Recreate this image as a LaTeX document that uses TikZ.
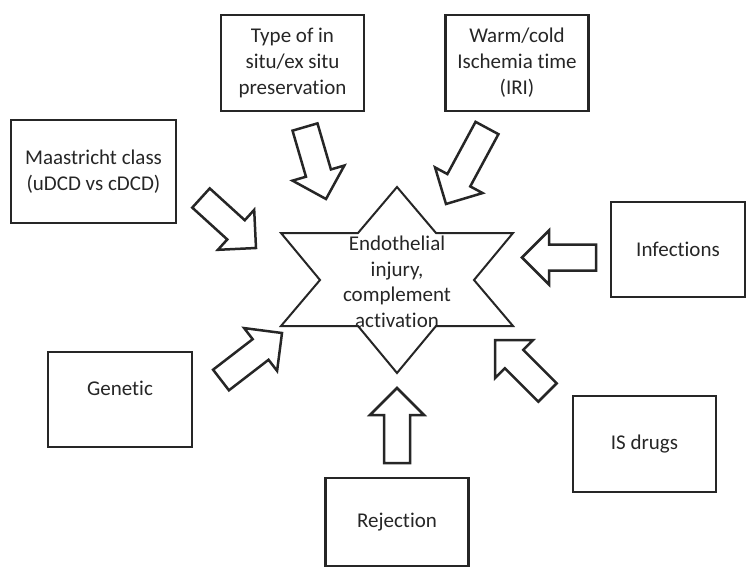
\documentclass[tikz,border=0pt]{standalone}
\usepackage{fontspec}
\setmainfont{Carlito}[Ligatures=NoCommon]
\usetikzlibrary{calc}

% hollow block arrow from tail coordinate #1 to tip coordinate #2
\newcommand{\factorarrow}[2]{%
  \coordinate (#2-base) at ($(#2)!27pt!(#1)$);
  \draw[fatarrow] ($(#1)!13pt!90:(#2)$) -- ($(#2-base)!13pt!-90:(#1)$)
    -- ($(#2-base)!27pt!-90:(#1)$) -- (#2)
    -- ($(#2-base)!27pt!90:(#1)$) -- ($(#2-base)!13pt!90:(#1)$)
    -- ($(#1)!13pt!-90:(#2)$) -- cycle;}

\begin{document}
\begin{tikzpicture}[x=1pt, y=-1pt,
  boxtext/.style={align=center, text=black!85, font=\fontsize{21}{26}\selectfont},
  factor/.style={boxtext, draw=black!85, line width=2.6pt, minimum width=143pt, minimum height=96pt},
  fatarrow/.style={draw=black!85, line width=2.5pt, line join=miter, fill=white}]
\useasboundingbox (0,0) rectangle (747,568);

% Central star
\draw[black!85, line width=2pt] (397,187) -- (436,233) -- (513,233) -- (474,280)
  -- (513,326) -- (436,326) -- (397,373) -- (358,326) -- (281,326) -- (320,280)
  -- (281,233) -- (358,233) -- cycle;
\node[boxtext, font=\fontsize{21}{25.5}\selectfont] (core) at (397,282)
  {Endothelial\\injury,\\complement\\activation};

% Factor boxes
\node[factor] (type) at (292.5,63) {Type of in\\situ/ex situ\\preservation};
\node[factor] (warm) at (517,63) {Warm/cold\\Ischemia time\\(IRI)};
\node[factor, minimum width=165pt, minimum height=103pt] (maas) at (93.5,171.5)
  {Maastricht class\\(uDCD vs cDCD)};
\node[factor, minimum width=134pt, minimum height=95pt] (infect) at (678,249.5) {Infections};
\node[factor, minimum width=144pt, minimum height=95pt,
  label={[boxtext, yshift=11pt]center:Genetic}] (genetic) at (120,399.5) {};
\node[factor] (isdrugs) at (644.5,444) {IS drugs};
\node[factor, minimum height=88pt] (reject) at (397,522) {Rejection};

% Block arrows
\coordinate (typeT) at (305,127);     \coordinate (typeH) at (326,199);
\coordinate (warmT) at (487,128);     \coordinate (warmH) at (446,204);
\coordinate (maasT) at (201,198);     \coordinate (maasH) at (256,248);
\coordinate (infectT) at (596,257.5); \coordinate (infectH) at (522,257.5);
\coordinate (geneticT) at (221,380);  \coordinate (geneticH) at (282,333);
\coordinate (isdrugsT) at (547.5,392.5); \coordinate (isdrugsH) at (495,340);
\coordinate (rejectT) at (397,463);   \coordinate (rejectH) at (397,388);

\factorarrow{typeT}{typeH}
\factorarrow{warmT}{warmH}
\factorarrow{maasT}{maasH}
\factorarrow{infectT}{infectH}
\factorarrow{geneticT}{geneticH}
\factorarrow{isdrugsT}{isdrugsH}
\factorarrow{rejectT}{rejectH}
\end{tikzpicture}
\end{document}
